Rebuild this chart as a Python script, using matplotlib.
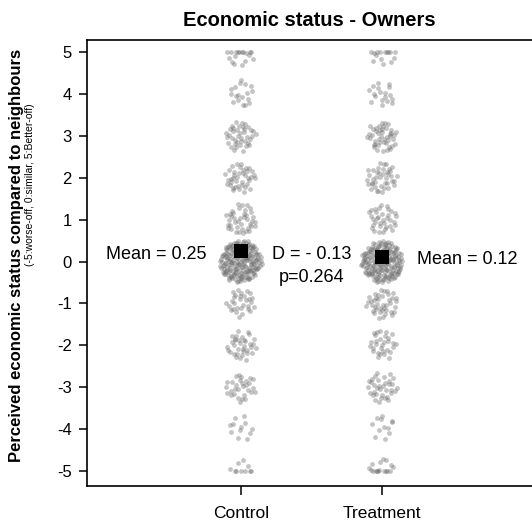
import numpy as np
import matplotlib
matplotlib.use("Agg")
import matplotlib.pyplot as plt

plt.rcParams['font.family'] = ['Liberation Sans', 'DejaVu Sans']

# ---- data ----
levels = [5, 4, 3, 2, 1, 0, -1, -2, -3, -4, -5]
groups = ["Control", "Treatment"]
counts_control = [18, 18, 40, 40, 40, 190, 30, 35, 30, 12, 10]
counts_treatment = [15, 18, 45, 40, 35, 180, 40, 30, 35, 12, 17]
means = [0.25, 0.12]
mean_labels = ["Mean = 0.25", "Mean = 0.12"]
diff_label = "D = - 0.13"
p_label = "p=0.264"
yticks = [5, 4, 3, 2, 1, 0, -1, -2, -3, -4, -5]

# ---- figure ----
W, H = 532, 525
fig = plt.figure(figsize=(W / 100, H / 100), dpi=100)

xlim = (-0.09, 3.1)
ylim = (-5.36, 5.29)
left_px, top_px, bottom_px = 87, 40, 486
px_per_x = 141.0
width_px = (xlim[1] - xlim[0]) * px_per_x
ax = fig.add_axes([left_px / W, 1 - bottom_px / H, width_px / W, (bottom_px - top_px) / H])
ax.set_xlim(*xlim)
ax.set_ylim(*ylim)
px_per_y = (bottom_px - top_px) / (ylim[1] - ylim[0])


def halton(i, b):
    f, r = 1.0, 0.0
    while i > 0:
        f /= b
        r += f * (i % b)
        i //= b
    return r


def cluster(xc, yc, n, seed):
    pts = []
    i = seed * 137 + 7
    while len(pts) < n:
        u = 2 * halton(i, 2) - 1
        v = 2 * halton(i, 3) - 1
        i += 1
        if u * u + v * v <= 1:
            pts.append((u, v))
    pts = np.array(pts)
    r_px = 11 + 0.75 * np.sqrt(n)
    xs = xc + pts[:, 0] * r_px / px_per_x
    ys = yc + pts[:, 1] * r_px / px_per_y
    ys = np.clip(ys, -5, 5)
    return xs, ys


all_counts = [counts_control, counts_treatment]
for gi, cnts in enumerate(all_counts):
    xc = gi + 1
    for li, (lev, n) in enumerate(zip(levels, cnts)):
        xs, ys = cluster(xc, lev, n, seed=gi * 11 + li)
        ax.scatter(xs, ys, s=12, color='#666666', alpha=0.38, linewidths=0, zorder=2)

# mean markers
ax.scatter([1, 2], means, marker='s', s=115, color='black', zorder=3, linewidths=0)

# annotations
ax.text(0.40, 0.16, mean_labels[0], ha='center', va='center', fontsize=13)
ax.text(2.605, 0.05, mean_labels[1], ha='center', va='center', fontsize=13)
ax.text(1.50, 0.16, diff_label, ha='center', va='center', fontsize=13)
ax.text(1.50, -0.38, p_label, ha='center', va='center', fontsize=13)

# axes styling
for s in ['left', 'bottom', 'top', 'right']:
    ax.spines[s].set_linewidth(1.2)
ax.set_yticks(yticks)
ax.set_yticklabels([str(t) for t in yticks], fontsize=12)
ax.set_xticks([1, 2])
ax.set_xticklabels(groups, fontsize=12.5)
ax.tick_params(axis='y', direction='out', length=6, width=1.1, pad=5)
ax.tick_params(axis='x', direction='out', length=6.5, width=1.1, pad=8)

fig.text(309 / W, 1 - 20 / H, "Economic status - Owners", ha='center', va='center',
         fontsize=14.5, fontweight='bold')
fig.text(17 / W, 1 - 255 / H, "Perceived economic status compared to neighbours",
         rotation=90, ha='center', va='center', fontsize=12, fontweight='bold')
fig.text(30 / W, 1 - 185 / H, "(-5:worse-off, 0:similar, 5:Better-off)",
         rotation=90, ha='center', va='center', fontsize=7.5)

fig.savefig("out.png", dpi=100)
